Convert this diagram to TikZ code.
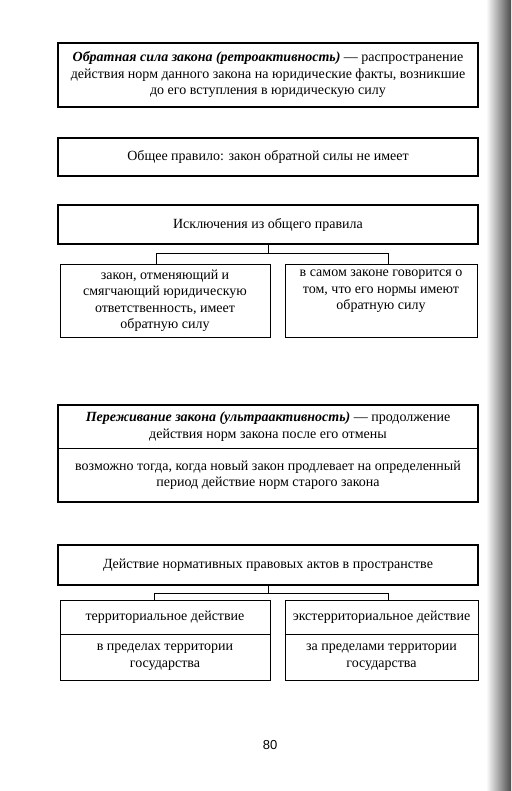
\documentclass[tikz,border=0pt]{standalone}
\usepackage{fontspec}
\setmainfont{Liberation Serif}
\newfontfamily\pagefont{Liberation Sans}
\newcommand\boxfont{\fontsize{14}{16.5}\selectfont\lineskiplimit=-8pt\relax}
\tikzset{
  boldbox/.style={draw, line width=2pt, minimum width=420pt, align=center, inner sep=2pt},
  plainbox/.style={draw, line width=0.6pt, align=center, inner sep=2pt},
  bare/.style={align=center, inner sep=2pt},
  link/.style={line width=0.7pt},
}
\begin{document}
\begin{tikzpicture}[x=1pt,y=-1pt,font=\boxfont]
\fill[white] (0,0) rectangle (511,791);
\shade[left color=white, right color=black!70] (486,0) rectangle (511,791);
% retroactivity
\node[boldbox, minimum height=64pt] (retro) at (268,75) {\textbf{\textit{Обратная сила закона (ретроактивность)}} --- распространение\\действия норм данного закона на юридические факты, возникшие\\до его вступления в юридическую силу};
\node[boldbox, minimum height=38pt] (rule) at (268,157) {Общее правило: закон обратной силы не имеет};
\node[boldbox, minimum height=39pt] (exc) at (268,224.5) {Исключения из общего правила};
\node[plainbox, minimum width=210pt, minimum height=73pt] (exleft) at (165,300.5) {закон, отменяющий и\\смягчающий юридическую\\ответственность, имеет\\обратную силу};
\node[plainbox, minimum width=192pt, minimum height=73pt] (exright) at (381,300.5) {в самом законе говорится о\\том, что его нормы имеют\\обратную силу\\\strut};
\draw[link] (exc.south) -- ++(0,8) coordinate (j1);
\draw[link] (j1) -| ([xshift=-9pt]exleft.north);
\draw[link] (j1) -| ([xshift=7pt]exright.north);
% ultraactivity
\node[bare, minimum width=420pt, minimum height=43pt] (ultra) at (268,426.5) {\textbf{\textit{Переживание закона (ультраактивность)}} --- продолжение\\действия норм закона после его отмены};
\node[bare, minimum width=420pt, minimum height=54pt] (ultra2) at (268,475) {возможно тогда, когда новый закон продлевает на определенный\\период действие норм старого закона};
\draw[line width=0.6pt] (ultra.south west) -- (ultra.south east);
\draw[line width=2pt] (ultra.north west) rectangle (ultra2.south east);
% space
\node[boldbox, minimum height=40pt] (space) at (268,565) {Действие нормативных правовых актов в пространстве};
\node[bare, minimum width=210pt, minimum height=34pt] (terr) at (165,617) {территориальное действие};
\node[bare, minimum width=210pt, minimum height=46pt] (terr2) at (165,657) {в пределах территории\\государства};
\node[bare, minimum width=193pt, minimum height=34pt] (exterr) at (381.5,617) {экстерриториальное действие};
\node[bare, minimum width=193pt, minimum height=46pt] (exterr2) at (381.5,657) {за пределами территории\\государства};
\draw[line width=0.6pt] (terr.north west) rectangle (terr2.south east);
\draw[line width=0.6pt] (terr.south west) -- (terr.south east);
\draw[line width=0.6pt] (exterr.north west) rectangle (exterr2.south east);
\draw[line width=0.6pt] (exterr.south west) -- (exterr.south east);
\draw[link] (space.south) -- ++(0,7) coordinate (j2);
\draw[link] (j2) -| ([xshift=-11pt]terr.north);
\draw[link] (j2) -| ([xshift=7pt]exterr.north);
\node[font=\pagefont\fontsize{13}{15}\selectfont] (page) at (270,745) {80};
\end{tikzpicture}
\end{document}
